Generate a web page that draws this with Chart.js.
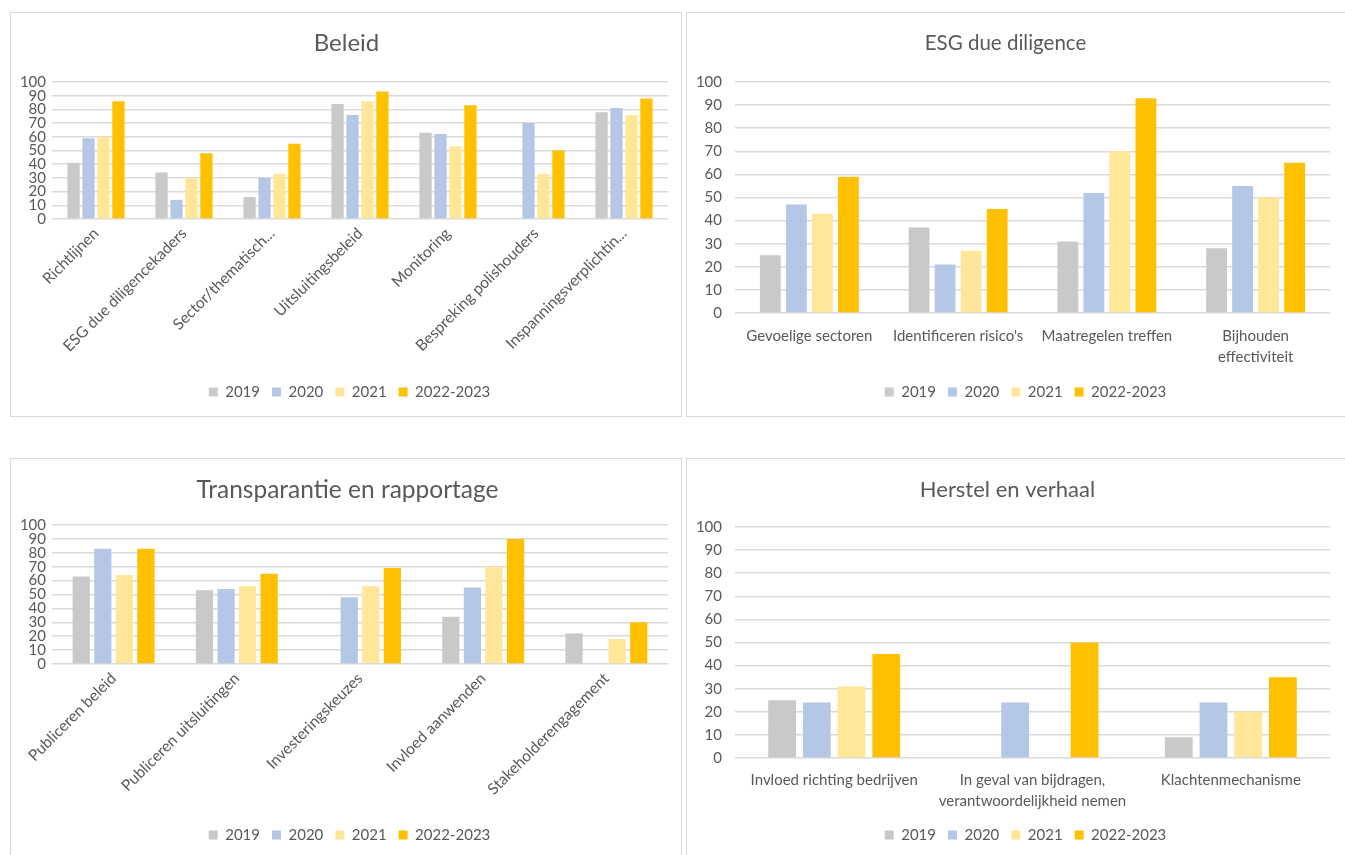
<!DOCTYPE html>
<html>
<head>
<meta charset="utf-8">
<script src="https://cdn.jsdelivr.net/npm/chart.js@4.4.1/dist/chart.umd.min.js"></script>
<style>
  html, body { margin: 0; padding: 0; background: #fff; overflow: hidden; }
  body { width: 1345px; height: 855px; position: relative; }
  .panel { position: absolute; box-sizing: border-box; border: 1px solid #d9d9d9; background: #fff; }
  .panel canvas { display: block; }
  #pBeleid { left: 10px; top: 12px; width: 672px; height: 405px; }
  #pEsg { left: 686px; top: 12px; width: 665px; height: 405px; }
  #pTrans { left: 10px; top: 458px; width: 672px; height: 405px; }
  #pHerstel { left: 686px; top: 458px; width: 665px; height: 405px; }
</style>
</head>
<body>
<div class="panel" id="pBeleid"><canvas id="cBeleid"></canvas></div>
<div class="panel" id="pEsg"><canvas id="cEsg"></canvas></div>
<div class="panel" id="pTrans"><canvas id="cTrans"></canvas></div>
<div class="panel" id="pHerstel"><canvas id="cHerstel"></canvas></div>
<script>
const seriesLabels = ['2019', '2020', '2021', '2022-2023'];
const seriesColors = ['#c9c9c9', '#b4c7e7', '#ffe699', '#ffc000'];
const yTicks = [0, 10, 20, 30, 40, 50, 60, 70, 80, 90, 100];

// Beleid
const beleidLabels = ['Richtlijnen', 'ESG due diligencekaders', 'Sector/thematisch...', 'Uitsluitingsbeleid',
  'Monitoring', 'Bespreking polishouders', 'Inspanningsverplichtin...'];
const beleid2019 = [41, 34, 16, 84, 63, 0, 78];
const beleid2020 = [59, 14, 30, 76, 62, 70, 81];
const beleid2021 = [60, 30, 33, 86, 53, 33, 76];
const beleid2022 = [86, 48, 55, 93, 83, 50, 88];

// ESG due diligence
const esgLabels = ['Gevoelige sectoren', "Identificeren risico's", 'Maatregelen treffen', ['Bijhouden', 'effectiviteit']];
const esg2019 = [25, 37, 31, 28];
const esg2020 = [47, 21, 52, 55];
const esg2021 = [43, 27, 70, 50];
const esg2022 = [59, 45, 93, 65];

// Transparantie en rapportage
const transLabels = ['Publiceren beleid', 'Publiceren uitsluitingen', 'Investeringskeuzes', 'Invloed aanwenden', 'Stakeholderengagement'];
const trans2019 = [63, 53, 0, 34, 22];
const trans2020 = [83, 54, 48, 55, 0];
const trans2021 = [64, 56, 56, 70, 18];
const trans2022 = [83, 65, 69, 90, 30];

// Herstel en verhaal
const herstelLabels = ['Invloed richting bedrijven', ['In geval van bijdragen,', 'verantwoordelijkheid nemen'], 'Klachtenmechanisme'];
const herstel2019 = [25, 0, 9];
const herstel2020 = [24, 24, 24];
const herstel2021 = [31, 0, 20];
const herstel2022 = [45, 50, 35];

const FONT = "Lato, 'Open Sans', 'Liberation Sans', sans-serif";
const TEXT = '#595959';

// nudges legend/title sideways after layout, so they sit where Excel put them
const shiftPlugin = {
  id: 'shift',
  afterLayout(chart, args, opts) {
    if (chart.legend && opts.legend) {
      chart.legend.left += opts.legend;
      chart.legend.right += opts.legend;
    }
    if (chart.titleBlock && opts.title) {
      chart.titleBlock.left += opts.title;
      chart.titleBlock.right += opts.title;
    }
  }
};

function makeChart(canvasId, title, labels, series, cfg) {
  const panel = document.getElementById(canvasId).parentElement;
  const canvas = document.getElementById(canvasId);
  canvas.width = panel.clientWidth;
  canvas.height = panel.clientHeight;
  canvas.style.width = panel.clientWidth + 'px';
  canvas.style.height = panel.clientHeight + 'px';

  new Chart(canvas.getContext('2d'), {
    type: 'bar',
    plugins: [shiftPlugin],
    data: {
      labels: labels,
      datasets: series.map((values, i) => ({
        label: seriesLabels[i],
        data: values,
        backgroundColor: seriesColors[i],
        borderWidth: 0,
        barPercentage: cfg.barPct,
        categoryPercentage: cfg.catPct
      }))
    },
    options: {
      responsive: false,
      animation: false,
      devicePixelRatio: 1,
      layout: { padding: { left: 0, right: cfg.padRight, top: 0, bottom: cfg.padBottom } },
      plugins: {
        tooltip: { enabled: false },
        shift: { legend: cfg.legendShift, title: cfg.titleShift },
        title: {
          display: true,
          text: title,
          color: TEXT,
          font: { family: FONT, size: cfg.titleSize, weight: 'normal' },
          padding: { top: cfg.titleTop, bottom: cfg.titleBottom }
        },
        legend: {
          position: 'bottom',
          labels: {
            color: TEXT,
            boxWidth: 9,
            boxHeight: 9,
            padding: 12,
            font: { family: FONT, size: 15 }
          }
        }
      },
      scales: {
        x: {
          grid: { display: false, drawTicks: false },
          border: { display: false },
          ticks: {
            color: TEXT,
            autoSkip: false,
            padding: cfg.xPad,
            minRotation: cfg.rotate,
            maxRotation: cfg.rotate,
            font: { family: FONT, size: cfg.xFont, lineHeight: 1.45 }
          },
          afterFit: scale => {
            scale.height = cfg.xHeight;
            scale.paddingLeft = 0;
            scale.paddingRight = 0;
          }
        },
        y: {
          min: 0,
          max: 100,
          grid: { color: '#d9d9d9', lineWidth: 1.5, drawTicks: false },
          border: { display: false },
          afterBuildTicks: scale => {
            scale.ticks = yTicks.map(v => ({ value: v }));
          },
          ticks: {
            color: TEXT,
            autoSkip: false,
            padding: cfg.yPad,
            font: { family: FONT, size: 15 }
          },
          afterFit: scale => {
            scale.width = cfg.yWidth;
            scale.paddingTop = 0;
            scale.paddingBottom = 0;
          }
        }
      }
    }
  });
}

makeChart('cBeleid', 'Beleid', beleidLabels, [beleid2019, beleid2020, beleid2021, beleid2022],
  { yWidth: 41, yPad: 6, xHeight: 153.5, xPad: 4, xFont: 15.5, rotate: 45, padRight: 13, padBottom: 6.5,
    titleSize: 24, titleTop: 15.6, titleBottom: 24.6, titleShift: 7, legendShift: 10,
    barPct: 0.82, catPct: 0.68 });

makeChart('cEsg', 'ESG due diligence', esgLabels, [esg2019, esg2020, esg2021, esg2022],
  { yWidth: 48, yPad: 13, xHeight: 59.5, xPad: 12, xFont: 15, rotate: 0, padRight: 20, padBottom: 6.5,
    titleSize: 20.5, titleTop: 17.7, titleBottom: 26.7, titleShift: -3, legendShift: 17,
    barPct: 0.8, catPct: 0.7 });

makeChart('cTrans', 'Transparantie en rapportage', transLabels, [trans2019, trans2020, trans2021, trans2022],
  { yWidth: 41, yPad: 6, xHeight: 151.5, xPad: 4, xFont: 15.5, rotate: 45, padRight: 13, padBottom: 9.5,
    titleSize: 24.5, titleTop: 16.3, titleBottom: 20.3, titleShift: 8, legendShift: 10,
    barPct: 0.8, catPct: 0.7 });

makeChart('cHerstel', 'Herstel en verhaal', herstelLabels, [herstel2019, herstel2020, herstel2021, herstel2022],
  { yWidth: 48, yPad: 13, xHeight: 57.5, xPad: 11, xFont: 15, rotate: 0, padRight: 20, padBottom: 9.5,
    titleSize: 22, titleTop: 17.8, titleBottom: 23.8, titleShift: -1, legendShift: 17,
    barPct: 0.8, catPct: 0.7 });
</script>
</body>
</html>
